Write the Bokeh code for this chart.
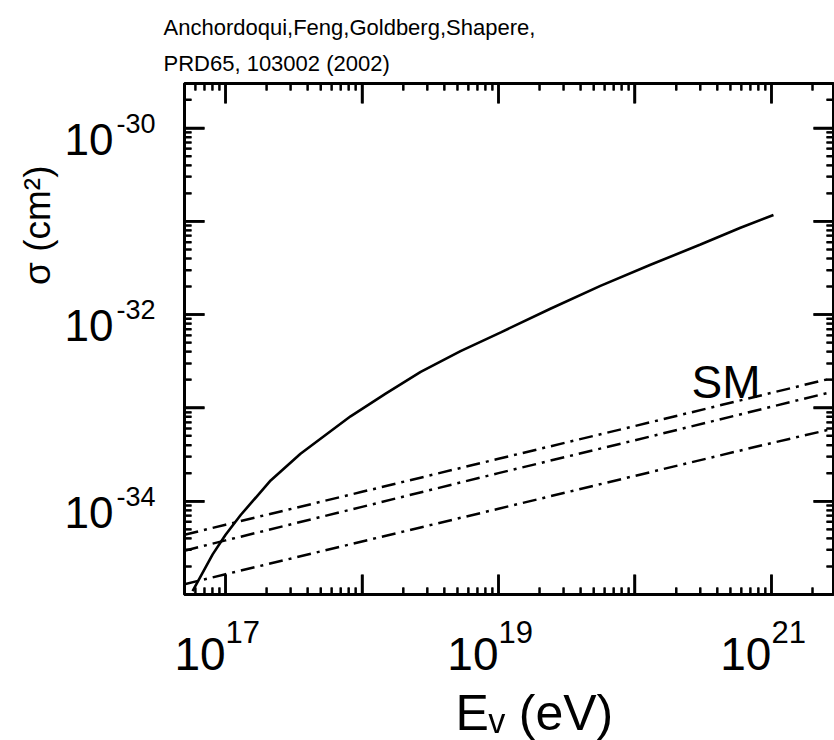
import math
from bokeh.plotting import figure
from bokeh.models import Label, FixedTicker, LogAxis, Range1d, CustomJSTickFormatter, Title
from bokeh.embed import file_html
from bokeh.resources import INLINE

# ---- data ----
energy_curve = [5.73e16, 8.04e16, 1.0e17, 1.29e17, 2.14e17, 3.54e17, 8.24e17, 1.49e18,
                2.69e18, 5.27e18, 1.04e19, 2.40e19, 5.58e19, 1.30e20, 3.02e20, 5.93e20, 1.035e21]
sigma_curve = [1.09e-35, 2.69e-35, 4.37e-35, 7.11e-35, 1.67e-34, 3.22e-34, 8.13e-34, 1.42e-33,
               2.43e-33, 4.06e-33, 6.46e-33, 1.156e-32, 2.03e-32, 3.42e-32, 5.64e-32, 8.53e-32, 1.17e-31]

energy_sm = [5.0e16, 1e17, 1e18, 1e19, 1e20, 1e21, 2.85e21]
sigma_sm_upper = [4.37e-35, 5.6e-35, 1.26e-34, 2.85e-34, 6.4e-34, 1.45e-33, 2.1e-33]
sigma_sm_middle = [2.95e-35, 3.8e-35, 8.7e-35, 2.0e-34, 4.5e-34, 1.03e-33, 1.5e-33]
sigma_sm_lower = [1.29e-35, 1.65e-35, 3.7e-35, 8.3e-35, 1.87e-34, 4.2e-34, 6.0e-34]

x_decades = [1e17, 1e18, 1e19, 1e20, 1e21]
y_decades = [1e-34, 1e-33, 1e-32, 1e-31, 1e-30]
x_label_exps = [17, 19, 21]
y_label_exps = [-30, -32, -34]

header_lines = ["Anchordoqui,Feng,Goldberg,Shapere,", "PRD65, 103002 (2002)"]
x_title = "E\u1d65 (eV)"
y_title = "\u03c3 (cm\u00b2)"
curve_label = "SM"
curve_label_pos = (2.6e20, 1.0e-33)

X0, X1 = 5.0e16, 2.85e21
Y0, Y1 = 1e-35, 3e-30
FONT = "Liberation Sans"
FS = "\u2007"  # figure space (digit-wide), places base and exponent side by side
NAN = float("nan")

BORDER_L, BORDER_T, BORDER_B, BORDER_R = 184, 83, 142, 1
W, H = 834, 740
FRAME_W = W - BORDER_L - BORDER_R
FRAME_H = H - BORDER_T - BORDER_B
TICK_MAJOR, TICK_MINOR = 20, 7

p = figure(width=W, height=H, x_axis_type="log", y_axis_type="log",
           x_range=Range1d(X0, X1), y_range=Range1d(Y0, Y1),
           output_backend="svg", toolbar_location=None,
           min_border_left=BORDER_L, min_border_right=BORDER_R, min_border_top=BORDER_T,
           min_border_bottom=BORDER_B)
p.title.text = ""
p.xgrid.visible = False
p.ygrid.visible = False
p.outline_line_color = "black"
p.outline_line_width = 3
p.background_fill_color = None
p.border_fill_color = "white"

xminor = [k * 10.0 ** d for d in range(16, 22) for k in range(2, 10) if X0 < k * 10.0 ** d < X1]
yminor = [k * 10.0 ** d for d in range(-36, -29) for k in range(2, 10) if Y0 < k * 10.0 ** d < Y1]

def label_formatter(exps, texts):
    return CustomJSTickFormatter(
        args=dict(exps=list(exps), texts=list(texts)),
        code="const e = Math.round(Math.log10(tick)); const i = exps.indexOf(e); return i >= 0 ? texts[i] : '';")

blank = CustomJSTickFormatter(code="return '';")

def style_axis(ax, ticks, minor, formatter, size, standoff, line=True):
    ax.ticker = FixedTicker(ticks=ticks, minor_ticks=minor)
    ax.formatter = formatter
    ax.major_tick_in = TICK_MAJOR if line else 0
    ax.major_tick_out = 0
    ax.minor_tick_in = TICK_MINOR if line else 0
    ax.minor_tick_out = 0
    col = "black" if line else None
    ax.major_tick_line_color = col
    ax.minor_tick_line_color = col
    ax.major_tick_line_width = 2.5
    ax.minor_tick_line_width = 2
    ax.axis_line_color = col
    ax.axis_line_width = 3
    ax.major_label_standoff = standoff
    ax.major_label_text_font = FONT
    ax.major_label_text_font_size = f"{size}px"
    ax.major_label_text_color = "black"
    ax.axis_label = None

# bottom: exponents nearest the frame, then the "10" bases
style_axis(p.xaxis[0], x_decades, xminor,
           label_formatter(x_label_exps, [FS + FS + str(e) for e in x_label_exps]), 31, 20)
x_base = LogAxis()
style_axis(x_base, x_decades, [], label_formatter(x_label_exps, ["10" + FS + FS for e in x_label_exps]),
           46, -25, line=False)
p.add_layout(x_base, "below")

# left: exponents nearest the frame, then the "10" bases
style_axis(p.yaxis[0], y_decades, yminor,
           label_formatter(y_label_exps, [str(e) + "\n" for e in y_label_exps]), 27, 29)
p.yaxis[0].major_label_text_line_height = 0.3
y_base = LogAxis()
style_axis(y_base, y_decades, [], label_formatter(y_label_exps, ["\n10" for e in y_label_exps]),
           44, 0, line=False)
y_base.major_label_text_line_height = 0.45
p.add_layout(y_base, "left")

top = LogAxis()
right = LogAxis()
style_axis(top, x_decades, xminor, blank, 1, 0)
style_axis(right, y_decades, yminor, blank, 1, 0)
p.add_layout(top, "above")
p.add_layout(right, "right")

# curves
p.line(energy_curve, sigma_curve, line_color="black", line_width=2.6)
for s in (sigma_sm_upper, sigma_sm_middle, sigma_sm_lower):
    p.line(energy_sm, s, line_color="black", line_width=2.5, line_dash="14 6 3 6")

# inward tick marks on all four sides: one broken line per side and tick kind
px_per_dec = FRAME_W / math.log10(X1 / X0)
py_per_dec = FRAME_H / math.log10(Y1 / Y0)

def tick_line(xs, ys, width):
    p.line(xs, ys, line_color="black", line_width=width, line_dash="solid")

def xticks(vals, length, width):
    fy = 10 ** (length / py_per_dec)
    for y_edge, y_in in ((Y0, Y0 * fy), (Y1, Y1 / fy)):
        xs, ys = [], []
        for v in vals:
            xs += [v, v, NAN]
            ys += [y_edge, y_in, NAN]
        tick_line(xs, ys, width)

def yticks(vals, length, width):
    fx = 10 ** (length / px_per_dec)
    for x_edge, x_in in ((X0, X0 * fx), (X1, X1 / fx)):
        xs, ys = [], []
        for v in vals:
            xs += [x_edge, x_in, NAN]
            ys += [v, v, NAN]
        tick_line(xs, ys, width)

xticks(x_decades, TICK_MAJOR, 2.5)
xticks(xminor, TICK_MINOR, 2)
yticks(y_decades, TICK_MAJOR, 2.5)
yticks(yminor, TICK_MINOR, 2)

# titles
p.add_layout(Title(text=header_lines[1], align="left", offset=-21, standoff=16,
                   text_font=FONT, text_font_size="22px", text_font_style="normal",
                   text_color="black"), "above")
p.add_layout(Title(text=header_lines[0], align="left", offset=-21, standoff=2,
                   text_font=FONT, text_font_size="22px", text_font_style="normal",
                   text_color="black"), "above")
p.add_layout(Title(text=x_title, align="left", offset=271, standoff=0,
                   text_font=FONT, text_font_size="50px", text_font_style="normal",
                   text_color="black"), "below")
p.add_layout(Title(text=y_title, align="right", offset=82, standoff=8,
                   text_font=FONT, text_font_size="37px", text_font_style="normal",
                   text_color="black"), "left")

# SM label
p.add_layout(Label(x=curve_label_pos[0], y=curve_label_pos[1], text=curve_label, text_font=FONT,
                   text_font_size="46px", text_color="black"))

open("out.html", "w").write(file_html(p, INLINE))
